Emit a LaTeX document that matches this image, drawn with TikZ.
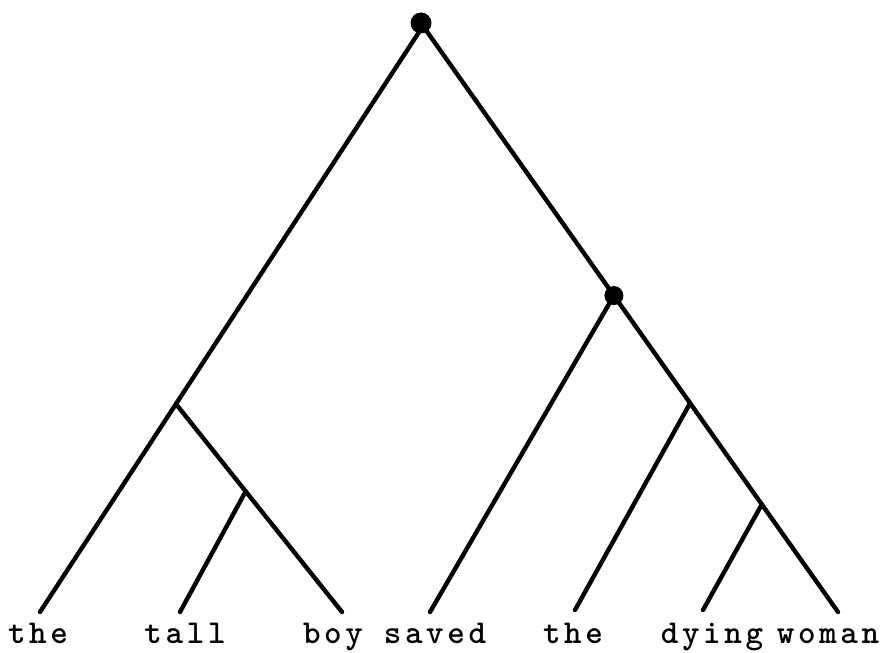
\documentclass[tikz,border=0pt]{standalone}
\usepackage{fontspec}
\newfontfamily\treefont{lmmonolt10-bold}[Extension=.otf,LetterSpace=11]
\usetikzlibrary{calc}
\tikzset{every picture/.style={line width=0.75pt}}
\tikzset{
  branch/.style={line width=2.5pt,line cap=round},
  dot/.style={circle,fill=black,inner sep=0pt,minimum size=#1},
  word/.style={anchor=base,inner sep=0pt,font=\fontsize{19}{21}\treefont}
}

\begin{document}
\begin{tikzpicture}[x=0.02cm,y=-0.02cm]
    \useasboundingbox (0,0) rectangle (885,652);

    % leaf ends
    \coordinate (the1) at (40,612);
    \coordinate (tall) at (180,612);
    \coordinate (boy) at (342,612);
    \coordinate (saved) at (430,612);
    \coordinate (the2) at (575,610);
    \coordinate (dying) at (703,610);
    \coordinate (woman) at (838,612);

    % inner points
    \coordinate (top) at (423,26);
    \coordinate (vp) at ($(top)!0.46!(woman)$);
    \coordinate (np) at ($(top)!0.645!(the1)$);
    \coordinate (nb) at ($(np)!0.42!(boy)$);
    \coordinate (np2) at ($(vp)!0.34!(woman)$);
    \coordinate (nw) at ($(vp)!0.66!(woman)$);

    % branches
    \draw[branch] (top) -- (np) -- (the1);
    \draw[branch] (np) -- (nb) -- (boy);
    \draw[branch] (nb) -- (tall);
    \draw[branch] (top) -- (vp) -- (np2) -- (nw) -- (woman);
    \draw[branch] (vp) -- (saved);
    \draw[branch] (np2) -- (the2);
    \draw[branch] (nw) -- (dying);

    % dots
    \node[dot=21*0.02cm] (topdot) at ($(top)+(-2,-3)$) {};
    \node[dot=19*0.02cm] (vpdot) at (vp) {};

    % words
    \node[word] (w1) at (38,643) {the};
    \node[word] (w2) at (185,643) {tall};
    \node[word] (w3) at (333,643) {boy};
    \node[word] (w4) at (435,643) {saved};
    \node[word] (w5) at (573,643) {the};
    \node[word] (w6) at (712,643) {dying};
    \node[word] (w7) at (828,643) {woman};
\end{tikzpicture}
\end{document}
